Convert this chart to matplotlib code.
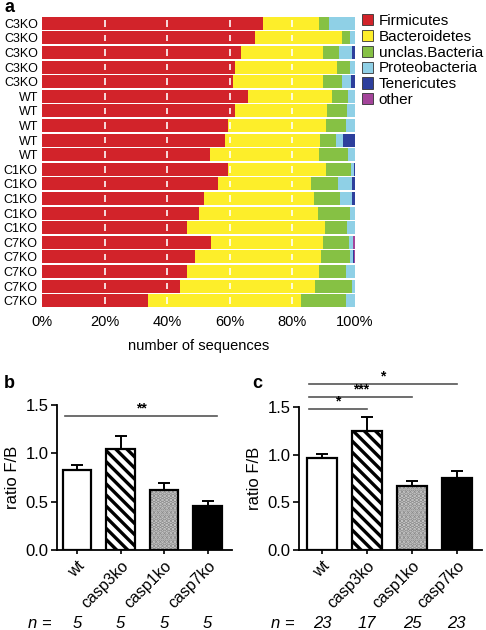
import matplotlib
matplotlib.use("Agg")
import matplotlib.pyplot as plt
from matplotlib.patches import Patch
from matplotlib.transforms import blended_transform_factory
import numpy as np

plt.rcParams['font.family'] = ['Liberation Sans', 'DejaVu Sans']
plt.rcParams['hatch.linewidth'] = 2.4

# ---------- Panel a data (percent) ----------
samples = ["C3KO"] * 5 + ["WT"] * 5 + ["C1KO"] * 5 + ["C7KO"] * 5
phyla = ["Firmicutes", "Bacteroidetes", "unclas.Bacteria", "Proteobacteria", "Tenericutes", "other"]
colors = ["#d2232a", "#fdee2a", "#86c144", "#8fd0e6", "#2d3f9c", "#a3449a"]

firmicutes = [70.5, 68.1, 63.5, 61.7, 61.1, 65.9, 61.7, 59.5, 58.5, 53.7,
              59.3, 56.3, 51.8, 50.3, 46.2, 53.9, 48.9, 46.4, 44.1, 34.0]
bacteroidetes = [18.0, 27.6, 26.4, 32.6, 28.8, 26.6, 29.3, 31.1, 30.3, 34.8,
                 31.4, 29.6, 35.1, 38.0, 44.2, 36.0, 40.1, 42.1, 43.1, 48.6]
unclas = [3.3, 2.7, 5.1, 4.1, 5.8, 5.4, 6.3, 6.5, 5.0, 9.4,
          8.0, 8.8, 8.3, 10.1, 7.1, 8.2, 9.4, 8.6, 11.7, 14.5]
proteo = [8.2, 1.6, 3.9, 1.6, 3.0, 2.1, 2.7, 2.9, 2.5, 2.1,
          1.0, 4.2, 3.7, 1.6, 2.5, 1.4, 1.1, 2.9, 1.1, 2.9]
teneric = [0.0, 0.0, 1.1, 0.0, 1.3, 0.0, 0.0, 0.0, 3.7, 0.0,
           0.3, 1.1, 1.1, 0.0, 0.0, 0.0, 0.2, 0.0, 0.0, 0.0]
other = [0.0, 0.0, 0.0, 0.0, 0.0, 0.0, 0.0, 0.0, 0.0, 0.0,
         0.0, 0.0, 0.0, 0.0, 0.0, 0.5, 0.3, 0.0, 0.0, 0.0]
pct_ticks = [0, 20, 40, 60, 80, 100]

# ---------- Panels b / c data ----------
groups = ["wt", "casp3ko", "casp1ko", "casp7ko"]
b_mean = [0.83, 1.045, 0.62, 0.455]
b_err = [0.05, 0.135, 0.07, 0.055]
b_n = ["5", "5", "5", "5"]
c_mean = [0.96, 1.25, 0.675, 0.76]
c_err = [0.05, 0.15, 0.045, 0.07]
c_n = ["23", "17", "25", "23"]
b_sig = [(0, 3, 1.385, "**")]
c_sig = [(0, 1, 1.48, "*"), (0, 2, 1.61, "***"), (0, 3, 1.74, "*")]

W, H = 486, 630
fig = plt.figure(figsize=(W / 100, H / 100), dpi=100)

def fax(l, t, r, b):
    return fig.add_axes([l / W, 1 - b / H, (r - l) / W, (b - t) / H])

# ---------------- Panel a ----------------
axa = fax(42, 16, 355, 308)
series = [firmicutes, bacteroidetes, unclas, proteo, teneric, other]
ypos = np.arange(len(samples))
left = np.zeros(len(samples))
for vals, col in zip(series, colors):
    axa.barh(ypos, vals, left=left, height=0.88, color=col, edgecolor="none")
    left += np.array(vals)
for g in pct_ticks[1:-1]:
    axa.vlines([g] * len(samples), ypos - 0.22, ypos + 0.22, colors="white", linewidth=1.3, alpha=0.9)
axa.set_xlim(0, 100)
axa.set_ylim(len(samples) - 0.5, -0.5)
axa.set_yticks(ypos)
axa.set_yticklabels(samples, fontsize=9)
axa.set_xticks(pct_ticks)
axa.set_xticklabels([f"{p}%" for p in pct_ticks], fontsize=10.5)
axa.tick_params(length=0, pad=5)
axa.tick_params(axis='y', pad=3)
for s in axa.spines.values():
    s.set_visible(False)
axa.set_xlabel("number of sequences", fontsize=10.5, labelpad=7)
handles = [Patch(facecolor=c, edgecolor="#333333", linewidth=0.6) for c in colors]
fig.legend(handles, phyla, loc="upper left", bbox_to_anchor=(362 / W, 1 - 14 / H),
           frameon=False, fontsize=11, handlelength=0.75, handleheight=0.75,
           handletextpad=0.35, labelspacing=0.12, borderaxespad=0, borderpad=0)
fig.text(4 / W, 1 - 8 / H, "a", fontsize=13, fontweight="bold", va="center")

# ---------------- Panels b & c ----------------
def bar_panel(ax, means, errs, ns, sigs, xl):
    x = np.arange(len(groups))
    wd = 0.66
    ax.errorbar(x, means, yerr=[np.zeros(4), errs], fmt="none", ecolor="black",
                elinewidth=1.4, capsize=4.5, capthick=1.4, zorder=1)
    ax.bar(x[0], means[0], width=wd, color="white", edgecolor="black", linewidth=1.6, zorder=2)
    ax.bar(x[1], means[1], width=wd, color="white", edgecolor="black", linewidth=1.6,
           hatch="\\\\\\", zorder=2)
    ax.bar(x[2], means[2], width=wd, color="#cfcfcf", edgecolor="#8a8a8a", linewidth=0,
           hatch="....", zorder=2)
    ax.bar(x[2], means[2], width=wd, color="none", edgecolor="black", linewidth=1.6, zorder=3)
    ax.bar(x[3], means[3], width=wd, color="black", edgecolor="black", linewidth=1.6, zorder=2)
    ax.set_ylim(0, 1.5)
    ax.set_xlim(*xl)
    ax.set_yticks([0, 0.5, 1.0, 1.5])
    ax.set_yticklabels(["0.0", "0.5", "1.0", "1.5"], fontsize=12)
    ax.set_xticks(x)
    ax.set_xticklabels(groups, rotation=45, ha="right", rotation_mode="anchor", fontsize=11.5)
    ax.tick_params(axis="y", length=4, width=1.2, pad=2)
    ax.tick_params(axis="x", length=3, width=1.2, pad=3)
    for s in ("top", "right"):
        ax.spines[s].set_visible(False)
    for s in ("left", "bottom"):
        ax.spines[s].set_linewidth(1.3)
    ax.set_ylabel("ratio F/B", fontsize=12, labelpad=4)
    for i, j, yv, lab in sigs:
        x0 = x[i] - 0.28
        x1 = x[j] + (0.22 if len(sigs) == 1 else 0)
        ax.plot([x0, x1], [yv, yv], color="#555555", linewidth=1.2, clip_on=False)
        ax.text((x0 + x1) / 2, yv + 0.005, lab, ha="center", va="bottom", fontsize=10,
                fontweight="bold")
    tr = blended_transform_factory(ax.transData, fig.transFigure)
    ax.text(-0.86, 1 - 624 / H, "n =", transform=tr, ha="center", va="center",
            fontsize=12, style="italic")
    for xi, n in zip(x, ns):
        ax.text(xi, 1 - 624 / H, n, transform=tr, ha="center", va="center",
                fontsize=12, style="italic")

axb = fax(57, 405, 232, 550)
bar_panel(axb, b_mean, b_err, b_n, b_sig, (-0.46, 3.56))
fig.text(4 / W, 1 - 384 / H, "b", fontsize=13, fontweight="bold", va="center")

axc = fax(299, 407, 482, 550)
bar_panel(axc, c_mean, c_err, c_n, c_sig, (-0.51, 3.56))
fig.text(252 / W, 1 - 384 / H, "c", fontsize=13, fontweight="bold", va="center")

fig.savefig("out.png", dpi=100)
